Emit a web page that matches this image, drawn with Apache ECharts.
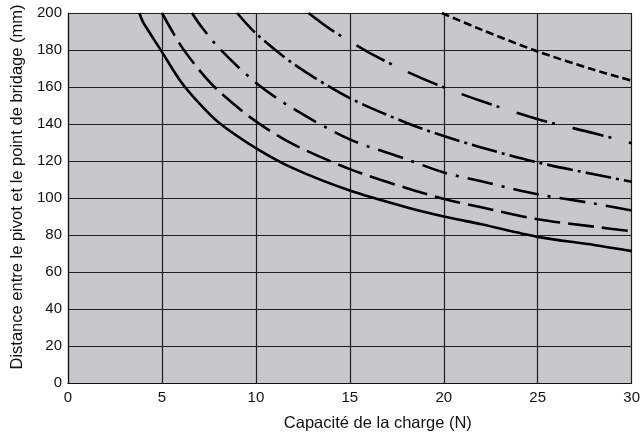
<!DOCTYPE html>
<html>
<head>
<meta charset="utf-8">
<script src="https://cdn.jsdelivr.net/npm/echarts@6/dist/echarts.min.js"></script>
<style>
html,body{margin:0;padding:0;background:#fff;}
#chart{width:643px;height:437px;}
</style>
</head>
<body>
<div id="chart"></div>
<script>
// Axis settings
var xTicks = [0, 5, 10, 15, 20, 25, 30];
var yTicks = [0, 20, 40, 60, 80, 100, 120, 140, 160, 180, 200];
var xName = 'Capacité de la charge (N)';
var yName = 'Distance entre le pivot et le point de bridage (mm)';

// Curve 1 (solid)
var c1x = [3.8, 4, 5, 6, 7, 8, 10, 12, 15, 18, 20, 22, 25, 28, 30];
var c1y = [200, 195, 179, 163, 151, 141, 127, 116, 104, 95, 90, 85.8, 79, 74.6, 71.3];
// Curve 2 (long dash)
var c2x = [5, 6, 7, 8, 10, 12, 15, 18, 20, 22, 25, 28, 30];
var c2y = [200, 182.5, 169, 158, 141.4, 129, 115.6, 105.4, 99.5, 95, 88.5, 84.5, 82];
// Curve 3 (dash-dot)
var c3x = [6.6, 7, 8, 10, 12, 15, 18, 20, 22, 25, 28, 30];
var c3y = [200, 194, 181.5, 162.3, 148.2, 131.7, 121, 113.8, 109, 102, 97, 93.2];
// Curve 4 (dash-dot, tight)
var c4x = [9, 10, 12, 15, 18, 20, 22, 25, 28, 30];
var c4y = [200, 189, 172.5, 154, 140.7, 133.5, 127.3, 119.2, 112.8, 108.8];
// Curve 5 (long dash-dot)
var c5x = [12.8, 14, 16, 18, 20, 22, 25, 28, 30];
var c5y = [200, 191, 178.7, 168.5, 159.8, 152.4, 142.6, 135, 129.6];
// Curve 6 (short dash)
var c6x = [19.9, 22, 25, 28, 30];
var c6y = [200, 191, 179.2, 169.3, 163.4];

function pairs(xs, ys) { return xs.map(function (x, i) { return [x, ys[i]]; }); }

var curves = [
  { x: c1x, y: c1y, type: 'solid' },
  { x: c2x, y: c2y, type: [26, 8] },
  { x: c3x, y: c3y, type: [26, 9, 3, 9] },
  { x: c4x, y: c4y, type: [26, 5, 3, 5] },
  { x: c5x, y: c5y, type: [32, 5, 3, 18] },
  { x: c6x, y: c6y, type: [8, 4] }
];

var font = 'Liberation Sans, Arial, Helvetica, sans-serif';
var gridColor = '#1e1e1e';

var chart = echarts.init(document.getElementById('chart'), null, { renderer: 'canvas' });
chart.setOption({
  animation: false,
  backgroundColor: '#ffffff',
  grid: {
    left: 68, right: 11, top: 13, bottom: 52,
    show: true, backgroundColor: '#c8c7cc', borderWidth: 0
  },
  xAxis: {
    type: 'value', min: xTicks[0], max: xTicks[xTicks.length - 1], interval: 5,
    name: xName, nameLocation: 'middle', nameGap: 32,
    nameTextStyle: { fontFamily: font, fontSize: 16.5, color: '#111', padding: [0, 0, 0, 56] },
    axisLine: { show: true, lineStyle: { color: '#111', width: 1.2 } },
    axisTick: { show: false },
    axisLabel: { fontFamily: font, fontSize: 15, color: '#111', margin: 7 },
    splitLine: { show: true, lineStyle: { color: gridColor, width: 1.2 } }
  },
  yAxis: {
    type: 'value', min: yTicks[0], max: yTicks[yTicks.length - 1], interval: 20,
    name: yName, nameLocation: 'middle', nameGap: 41,
    nameTextStyle: { fontFamily: font, fontSize: 16.5, color: '#111', padding: [0, 0, 0, 22] },
    axisLine: { show: true, lineStyle: { color: '#111', width: 1.2 } },
    axisTick: { show: false },
    axisLabel: { fontFamily: font, fontSize: 15, color: '#111', margin: 6 },
    splitLine: { show: true, lineStyle: { color: gridColor, width: 1.2 } }
  },
  series: curves.map(function (c) {
    return {
      type: 'line',
      data: pairs(c.x, c.y),
      smooth: 0.3,
      showSymbol: false,
      clip: true,
      lineStyle: { color: '#000', width: 2.6, type: c.type }
    };
  })
});
</script>
</body>
</html>
